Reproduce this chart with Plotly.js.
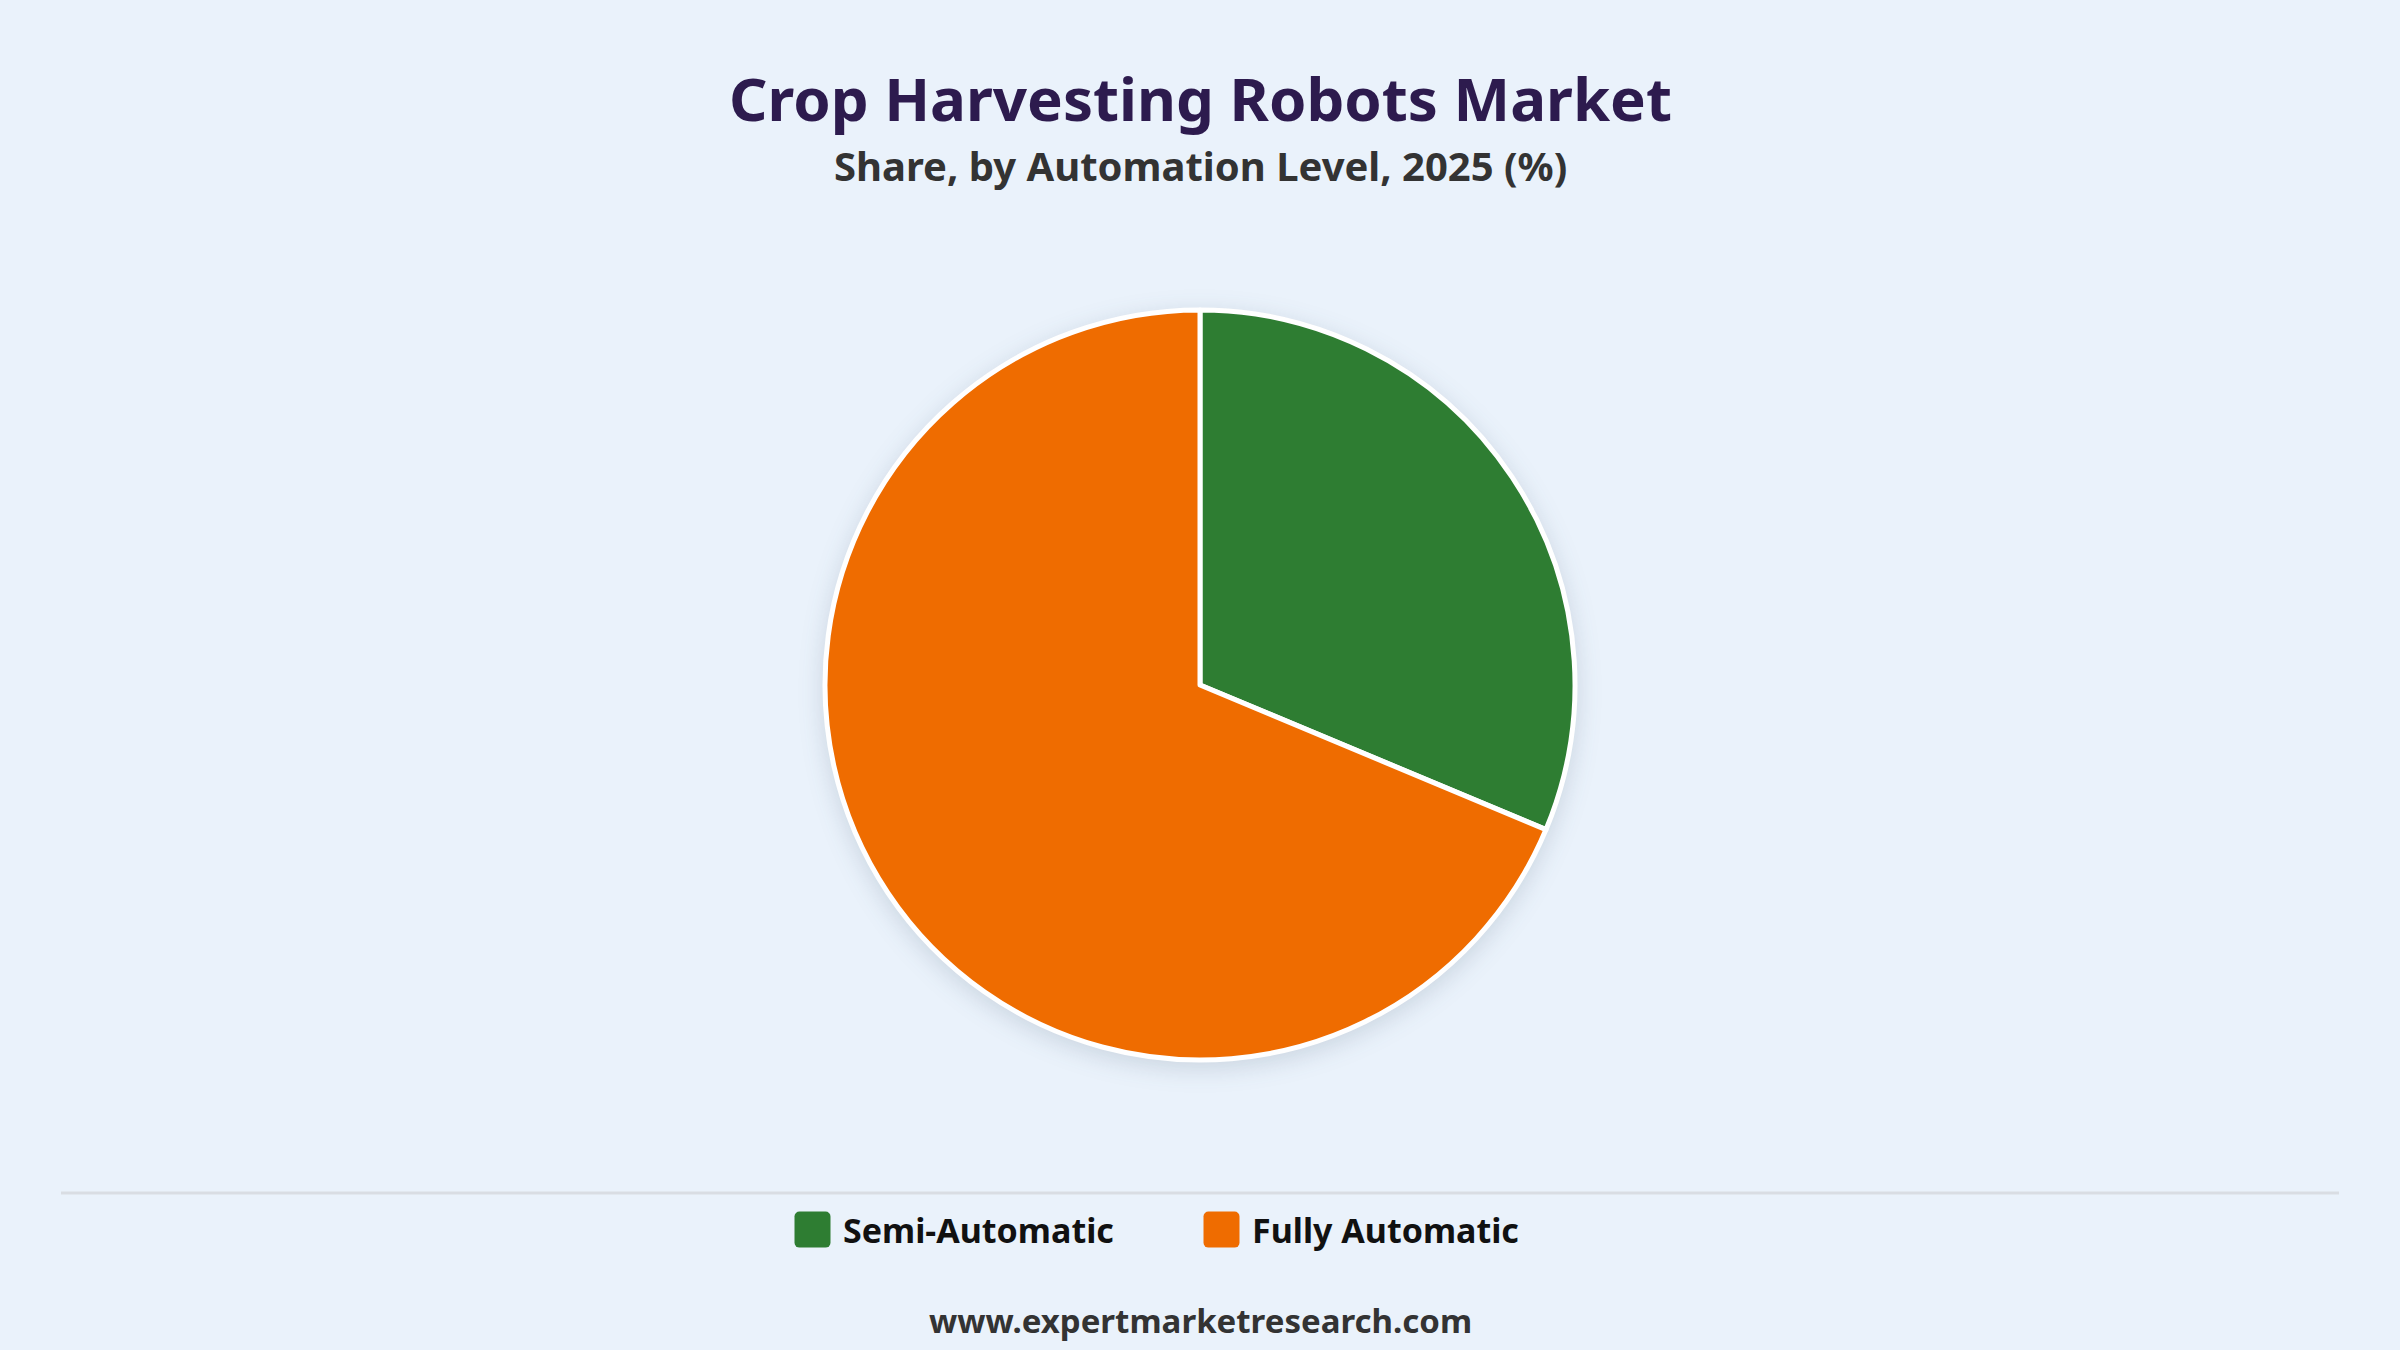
<!DOCTYPE html>
<html>
<head>
<meta charset="utf-8">
<script src="https://cdn.plot.ly/plotly-3.0.1.min.js"></script>
<style>
  html, body { margin: 0; padding: 0; background: #eaf2fb; }
  #chart { width: 2400px; height: 1350px; }
  .pielayer .trace { filter: drop-shadow(0px 6px 12px rgba(40, 60, 90, 0.16)); }
</style>
</head>
<body>
<div id="chart"></div>
<script>
const categories = ["Semi-Automatic", "Fully Automatic"];
const shares = [31.3, 68.7];
const sliceColors = ["#2e7d32", "#ef6c00"];

const titleText = "Crop Harvesting Robots Market";
const subtitleText = "Share, by Automation Level, 2025 (%)";
const sourceText = "www.expertmarketresearch.com";

const FONT = "'Noto Sans', 'Open Sans', sans-serif";

const data = [{
  type: "pie",
  labels: categories,
  values: shares,
  sort: false,
  direction: "clockwise",
  rotation: 0,
  marker: { colors: sliceColors, line: { color: "#ffffff", width: 5 } },
  textinfo: "none",
  hoverinfo: "label+percent",
  domain: { x: [0.34375, 0.65625], y: [0.2148, 0.7704] }
}];

const layout = {
  width: 2400,
  height: 1350,
  paper_bgcolor: "#eaf2fb",
  plot_bgcolor: "#eaf2fb",
  margin: { l: 0, r: 0, t: 0, b: 0 },
  showlegend: true,
  legend: {
    orientation: "h",
    x: 782 / 2400, xanchor: "left",
    y: 1 - 1230 / 1350, yanchor: "middle",
    font: { family: FONT, size: 34, color: "#111111", weight: 700 },
    itemwidth: 51,
    entrywidth: 343,
    entrywidthmode: "pixels",
    bgcolor: "rgba(0,0,0,0)",
    traceorder: "normal",
    itemclick: false
  },
  annotations: [
    { text: "<b>" + titleText + "</b>", xref: "paper", yref: "paper", x: 0.5, y: 1 - 98 / 1350,
      xanchor: "center", yanchor: "middle", showarrow: false,
      font: { family: FONT, size: 60, color: "#2d1b4e" } },
    { text: "<b>" + subtitleText + "</b>", xref: "paper", yref: "paper", x: 0.5, y: 1 - 166 / 1350,
      xanchor: "center", yanchor: "middle", showarrow: false,
      font: { family: FONT, size: 40, color: "#333333" } },
    { text: "<b>" + sourceText + "</b>", xref: "paper", yref: "paper", x: 0.5, y: 1 - 1320 / 1350,
      xanchor: "center", yanchor: "middle", showarrow: false,
      font: { family: FONT, size: 33, color: "#333333" } }
  ],
  shapes: [
    { type: "line", xref: "paper", yref: "paper", x0: 61 / 2400, x1: 2339 / 2400,
      y0: 1 - 1193 / 1350, y1: 1 - 1193 / 1350, line: { color: "#d9dde3", width: 3 } }
  ]
};

Plotly.newPlot("chart", data, layout, { displayModeBar: false, staticPlot: true }).then(function () {
  document.querySelectorAll(".legendpie").forEach(function (p) {
    p.setAttribute("d", "M18,-13A5,5 0 0 0 13,-18H-13A5,5 0 0 0 -18,-13V13A5,5 0 0 0 -13,18H13A5,5 0 0 0 18,13Z");
    p.style.stroke = "none";
    p.style.strokeWidth = "0";
  });
});
</script>
</body>
</html>
